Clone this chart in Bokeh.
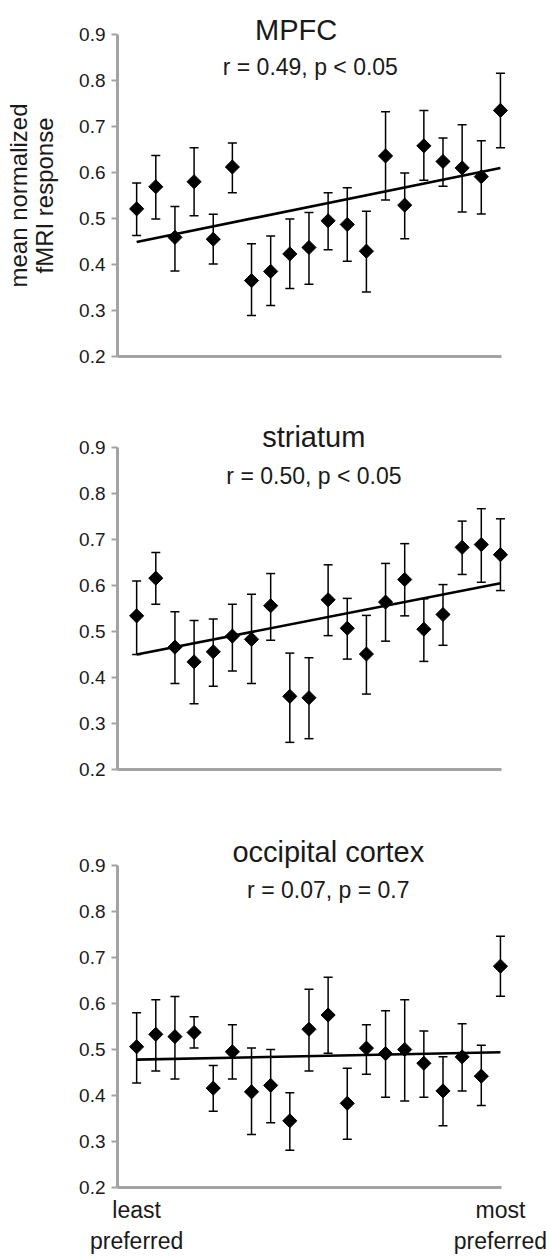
import math
from bokeh.plotting import figure
from bokeh.models import (ColumnDataSource, Whisker, TeeHead, Label, Range1d,
                          FixedTicker, PrintfTickFormatter)
from bokeh.layouts import column
from bokeh.embed import file_html
from bokeh.resources import INLINE

# ---------------- data ----------------
items = list(range(1, 21))
y_ticks = [0.2, 0.3, 0.4, 0.5, 0.6, 0.7, 0.8, 0.9]

mpfc_mean = [0.521, 0.569, 0.459, 0.580, 0.455, 0.612, 0.365, 0.385, 0.423, 0.437,
             0.495, 0.487, 0.429, 0.636, 0.529, 0.658, 0.624, 0.610, 0.591, 0.735]
mpfc_upper = [0.577, 0.637, 0.526, 0.654, 0.509, 0.664, 0.445, 0.462, 0.499, 0.513,
              0.556, 0.567, 0.516, 0.732, 0.599, 0.735, 0.675, 0.704, 0.669, 0.816]
mpfc_lower = [0.463, 0.499, 0.386, 0.506, 0.401, 0.556, 0.289, 0.311, 0.348, 0.357,
              0.432, 0.407, 0.340, 0.540, 0.456, 0.583, 0.570, 0.514, 0.510, 0.654]
mpfc_fit = [0.449, 0.610]

striatum_mean = [0.534, 0.616, 0.466, 0.434, 0.456, 0.490, 0.483, 0.556, 0.359, 0.356,
                 0.569, 0.507, 0.451, 0.564, 0.613, 0.505, 0.537, 0.683, 0.689, 0.667]
striatum_upper = [0.610, 0.672, 0.543, 0.524, 0.527, 0.559, 0.581, 0.626, 0.453, 0.443,
                  0.645, 0.572, 0.535, 0.648, 0.691, 0.571, 0.602, 0.740, 0.767, 0.745]
striatum_lower = [0.450, 0.559, 0.387, 0.343, 0.381, 0.414, 0.387, 0.481, 0.259, 0.267,
                  0.491, 0.440, 0.364, 0.479, 0.534, 0.435, 0.470, 0.624, 0.607, 0.589]
striatum_fit = [0.450, 0.605]

occipital_mean = [0.506, 0.533, 0.528, 0.537, 0.416, 0.495, 0.408, 0.422, 0.345, 0.544,
                  0.575, 0.383, 0.503, 0.491, 0.500, 0.470, 0.410, 0.484, 0.442, 0.681]
occipital_upper = [0.580, 0.608, 0.615, 0.571, 0.465, 0.554, 0.503, 0.500, 0.406, 0.631,
                   0.657, 0.459, 0.554, 0.584, 0.608, 0.540, 0.484, 0.556, 0.509, 0.746]
occipital_lower = [0.427, 0.453, 0.436, 0.503, 0.366, 0.436, 0.315, 0.341, 0.281, 0.453,
                   0.492, 0.305, 0.446, 0.396, 0.388, 0.396, 0.334, 0.410, 0.378, 0.616]
occipital_fit = [0.478, 0.494]

titles = ["MPFC", "striatum", "occipital cortex"]
stats = ["r = 0.49, p < 0.05", "r = 0.50, p < 0.05", "r = 0.07, p = 0.7"]
y_label = "mean normalized\nfMRI response"
end_ticks = [1, 20]
end_labels = ["least\npreferred", "most\npreferred"]

FONT = "Liberation Sans"
AXIS_GRAY = "#a3a3a3"
TEXT = "#1a1a1a"
PX_PER_UNIT = 460.0  # vertical pixels per 1.0 of response


def make_panel(mean, upper, lower, fit, title, stat, title_pos, stat_pos,
               top_px, below_px, height, bottom):
    y_top = 0.9 + top_px / PX_PER_UNIT
    y_bot = 0.2 - below_px / PX_PER_UNIT
    p = figure(width=551, height=height,
               x_range=Range1d(0, 21.1), y_range=Range1d(y_bot, y_top),
               output_backend="svg", toolbar_location=None,
               min_border_left=117, min_border_right=30,
               min_border_top=0, min_border_bottom=bottom)
    p.xgrid.visible = False
    p.ygrid.visible = False
    p.outline_line_color = None
    p.background_fill_color = "white"
    p.border_fill_color = "white"

    # y axis
    ya = p.yaxis[0]
    ya.ticker = FixedTicker(ticks=y_ticks)
    ya.formatter = PrintfTickFormatter(format="%.1f")
    ya.bounds = (0.2, 0.9)
    ya.axis_line_color = AXIS_GRAY
    ya.axis_line_width = 3
    ya.major_tick_line_color = AXIS_GRAY
    ya.major_tick_line_width = 2
    ya.major_tick_out = 6
    ya.major_tick_in = 0
    ya.minor_tick_line_color = None
    ya.major_label_standoff = 6
    ya.major_label_text_font = FONT
    ya.major_label_text_font_size = "19px"
    ya.major_label_text_color = TEXT

    # x axis
    xa = p.xaxis[0]
    xa.ticker = FixedTicker(ticks=[])
    xa.bounds = (0, 20.03)
    if below_px > 0:
        xa.fixed_location = 0.2
    xa.axis_line_color = AXIS_GRAY
    xa.axis_line_width = 3
    xa.major_tick_line_color = None
    xa.major_tick_out = 0
    xa.major_tick_in = 0
    xa.minor_tick_line_color = None
    xa.major_label_text_font = FONT
    xa.major_label_text_font_size = "23px"
    xa.major_label_text_color = TEXT
    xa.major_label_standoff = 9

    src = ColumnDataSource(dict(x=items, y=mean, upper=upper, lower=lower))
    whisk = Whisker(source=src, base="x", upper="upper", lower="lower",
                    dimension="height", line_color="black", line_width=1.5,
                    upper_head=TeeHead(size=9, line_color="black", line_width=1.5),
                    lower_head=TeeHead(size=9, line_color="black", line_width=1.5))
    p.add_layout(whisk)

    p.line([items[0], items[-1]], fit, line_color="black", line_width=2.6)
    p.scatter("x", "y", source=src, marker="square", angle=math.pi / 4,
              size=10, fill_color="black", line_color="black")

    p.add_layout(Label(x=title_pos[0], y=title_pos[1], text=title,
                       text_align="center", text_baseline="alphabetic",
                       text_font=FONT, text_font_size="29px", text_color=TEXT))
    p.add_layout(Label(x=stat_pos[0], y=stat_pos[1], text=stat,
                       text_align="center", text_baseline="alphabetic",
                       text_font=FONT, text_font_size="23px", text_color=TEXT))
    return p


p1 = make_panel(mpfc_mean, mpfc_upper, mpfc_lower, mpfc_fit, titles[0], stats[0],
                (9.33, 0.9087), (10.07, 0.8283), 34, 34, 415, 25)
p2 = make_panel(striatum_mean, striatum_upper, striatum_lower, striatum_fit,
                titles[1], stats[1], (10.25, 0.9228), (10.26, 0.8376), 32, 0, 417, 63)
p3 = make_panel(occipital_mean, occipital_upper, occipital_lower, occipital_fit,
                titles[2], stats[2], (11.01, 0.9293), (11.01, 0.8465), 33, 0, 426, 71)

# y axis label (two lines) on the first panel
ya1 = p1.yaxis[0]
ya1.axis_label = y_label
ya1.axis_label_text_font = FONT
ya1.axis_label_text_font_size = "24px"
ya1.axis_label_text_font_style = "normal"
ya1.axis_label_text_color = TEXT
ya1.axis_label_text_line_height = 0.95
ya1.axis_label_standoff = 18

# end labels on the bottom panel
xa3 = p3.xaxis[0]
xa3.ticker = FixedTicker(ticks=end_ticks)
xa3.major_label_overrides = {t: lab for t, lab in zip(end_ticks, end_labels)}

layout = column(p1, p2, p3, spacing=0)
open("out.html", "w").write(file_html(layout, INLINE))
